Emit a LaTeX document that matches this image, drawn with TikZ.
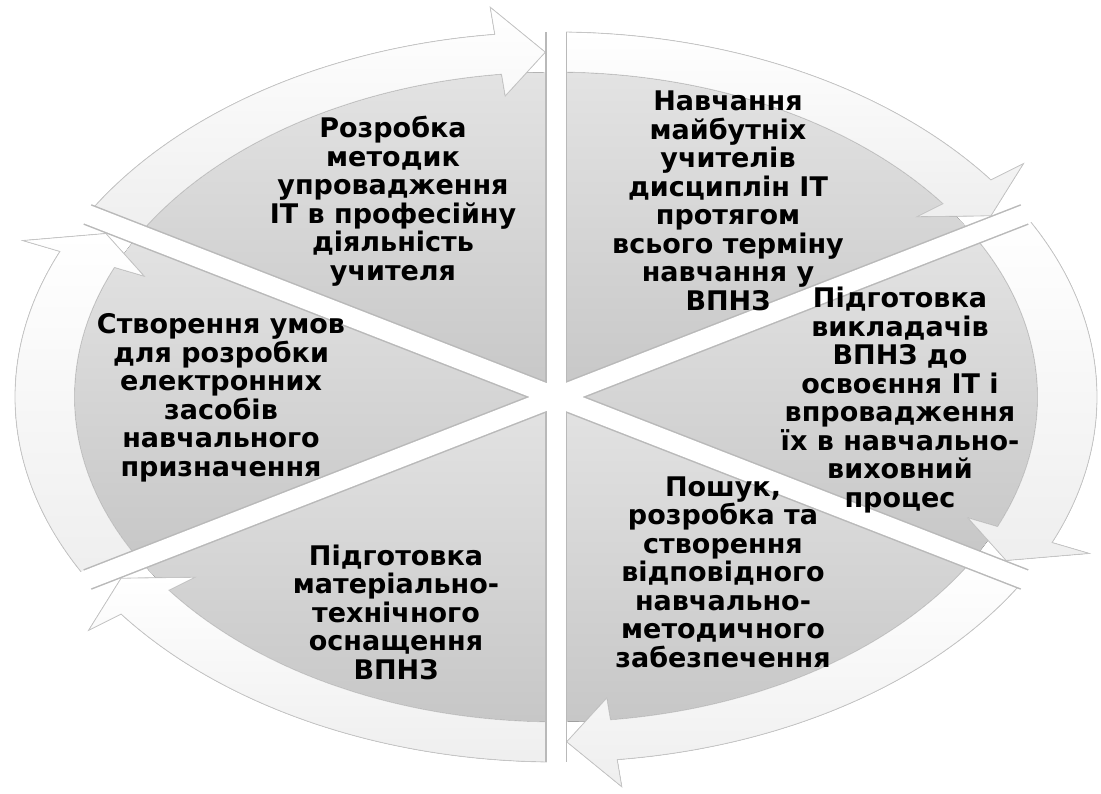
\documentclass[tikz,border=0pt]{standalone}
\usepackage{fontspec}
\setmainfont{DejaVu Sans}
\begin{document}
\begin{tikzpicture}[x=1pt,y=1pt,
  body/.style={top color=gray!22, bottom color=gray!44},
  ring/.style={top color=white, bottom color=gray!13, draw=gray!45, line width=0.8pt},
  gapedge/.style={gray!55, line width=22pt},
  gapfill/.style={white, line width=19pt},
  txt/.style={font=\fontsize{27}{28.5}\selectfont\bfseries, align=center, text=black, inner sep=0pt}]
\useasboundingbox (0,0) rectangle (1101,793);
\begin{scope}[shift={(556,396)}, xscale=541, yscale=365]
  \foreach \h/\d in {90/1.2, 30/1.7, -30/1.7, -90/1.2, -150/1.7, 150/1.7} {
    \fill[body] (0,0) -- (\h:0.89) arc[start angle=\h, end angle=\h+60, radius=0.89] -- cycle;
    \filldraw[ring] ({\h+60}:1) arc[start angle=\h+60, end angle=\h+6.5, radius=1]
      -- ({\h+6.5}:1.075) -- ({\h+\d}:0.945) -- ({\h+6.5}:0.83) -- ({\h+6.5}:0.89)
      arc[start angle=\h+6.5, end angle=\h+60, radius=0.89] -- cycle;
  }
  \foreach \a in {90,30,-30,-90,-150,150} {
    \draw[gapedge] (0,0) -- (\a:1.0);
  }
  \foreach \a in {90,30,-30,-90,-150,150} {
    \draw[gapfill] (0,0) -- (\a:1.2);
  }
\end{scope}
\node[txt] (t1) at (393,592) {Розробка\\методик\\упровадження\\ІТ в професійну\\діяльність\\учителя};
\node[txt] (t2) at (728,592) {Навчання\\майбутніх\\учителів\\дисциплін ІТ\\протягом\\всього терміну\\навчання у\\ВПНЗ};
\node[txt] (t3) at (900,393) {Підготовка\\викладачів\\ВПНЗ до\\освоєння ІТ і\\впровадження\\їх в навчально-\\виховний\\процес};
\node[txt] (t4) at (723,221) {Пошук,\\розробка та\\створення\\відповідного\\навчально-\\методичного\\забезпечення};
\node[txt] (t5) at (396,181) {Підготовка\\матеріально-\\технічного\\оснащення\\ВПНЗ};
\node[txt] (t6) at (221,395) {Створення умов\\для розробки\\електронних\\засобів\\навчального\\призначення};
\end{tikzpicture}
\end{document}
